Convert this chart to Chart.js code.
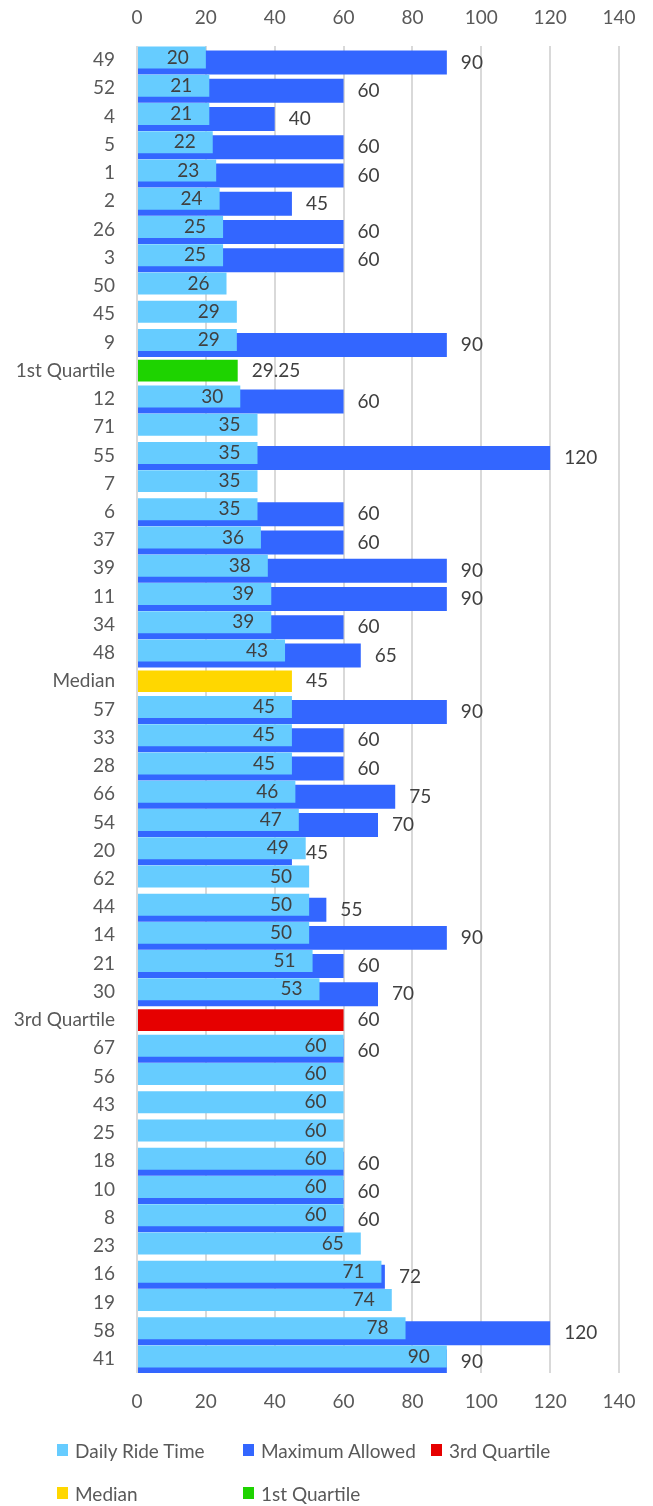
<!DOCTYPE html>
<html>
<head>
<meta charset="utf-8">
<script src="https://cdn.jsdelivr.net/npm/chart.js@4.4.1/dist/chart.umd.min.js"></script>
<style>
  html, body { margin: 0; padding: 0; background: #fff; }
  #wrap { position: relative; width: 653px; height: 1506px; }
  #legend {
    position: absolute; left: 57px; top: 1438px;
    display: grid; grid-template-columns: 186px 188px auto; row-gap: 19px;
    font: 19px Lato, sans-serif; color: #595959;
  }
  .item { display: flex; align-items: center; height: 24px; white-space: nowrap; }
  .box { width: 11px; height: 12px; margin-right: 7px; }
</style>
</head>
<body>
<div id="wrap">
  <canvas id="chart" width="653" height="1506"></canvas>
  <div id="legend"></div>
</div>
<script>
const categories = ['49', '52', '4', '5', '1', '2', '26', '3', '50', '45', '9', '1st Quartile',
  '12', '71', '55', '7', '6', '37', '39', '11', '34', '48', 'Median',
  '57', '33', '28', '66', '54', '20', '62', '44', '14', '21', '30', '3rd Quartile',
  '67', '56', '43', '25', '18', '10', '8', '23', '16', '19', '58', '41'];

const dailyRide = [20, 21, 21, 22, 23, 24, 25, 25, 26, 29, 29, null,
  30, 35, 35, 35, 35, 36, 38, 39, 39, 43, null,
  45, 45, 45, 46, 47, 49, 50, 50, 50, 51, 53, null,
  60, 60, 60, 60, 60, 60, 60, 65, 71, 74, 78, 90];

const maxAllowed = [90, 60, 40, 60, 60, 45, 60, 60, null, null, 90, null,
  60, null, 120, null, 60, 60, 90, 90, 60, 65, null,
  90, 60, 60, 75, 70, 45, null, 55, 90, 60, 70, null,
  60, null, null, null, 60, 60, 60, null, 72, null, 120, 90];

const firstQuartile = 29.25;
const median = 45;
const thirdQuartile = 60;

const xMin = 0, xMax = 140, xStep = 20;

// quartile rows only carry their own value
const onRow = (name, v) => categories.map(c => (c === name ? v : null));

const font = { family: 'Lato, sans-serif', size: 19 };
const tickColor = '#595959';

const valueLabels = {
  id: 'valueLabels',
  afterDatasetsDraw(chart) {
    const ctx = chart.ctx;
    ctx.save();
    ctx.font = '19px Lato, sans-serif';
    ctx.fillStyle = '#404040';
    ctx.textBaseline = 'middle';
    chart.data.datasets.forEach((ds, i) => {
      const meta = chart.getDatasetMeta(i);
      meta.data.forEach((bar, j) => {
        const v = ds.data[j];
        if (v == null) return;
        if (i === 0) {
          // inside end
          ctx.textAlign = 'right';
          ctx.fillText(v, bar.x - 17, bar.y);
        } else {
          // outside end
          ctx.textAlign = 'left';
          ctx.fillText(v, bar.x + 14, bar.y);
        }
      });
    });
    ctx.restore();
  }
};

const chart = new Chart(document.getElementById('chart'), {
  type: 'bar',
  data: {
    labels: categories,
    datasets: [
      { label: 'Daily Ride Time', data: dailyRide, backgroundColor: '#66CCFF',
        stack: 'ride', categoryPercentage: 0.354, barPercentage: 4.4 },
      { label: 'Maximum Allowed', data: maxAllowed, backgroundColor: '#3366FF',
        stack: 'max', categoryPercentage: 0.354, barPercentage: 4.8 },
      { label: '3rd Quartile', data: onRow('3rd Quartile', thirdQuartile), backgroundColor: '#E60000',
        grouped: false, barPercentage: 0.96 },
      { label: 'Median', data: onRow('Median', median), backgroundColor: '#FFD700',
        grouped: false, barPercentage: 0.96 },
      { label: '1st Quartile', data: onRow('1st Quartile', firstQuartile), backgroundColor: '#1ED300',
        grouped: false, barPercentage: 0.96 }
    ]
  },
  options: {
    indexAxis: 'y',
    responsive: false,
    animation: false,
    layout: { padding: { left: 0, right: 34, top: 0, bottom: 93 } },
    plugins: { legend: { display: false }, tooltip: { enabled: false } },
    scales: {
      x: {
        position: 'top', min: xMin, max: xMax,
        ticks: { stepSize: xStep, padding: 17, color: tickColor, font },
        grid: { color: '#d9d9d9', lineWidth: 2, drawTicks: false },
        border: { display: false },
        afterFit: s => { s.height = 46; }
      },
      x2: {
        type: 'linear', position: 'bottom', min: xMin, max: xMax,
        ticks: { stepSize: xStep, padding: 17, color: tickColor, font },
        grid: { display: false, drawTicks: false },
        border: { display: false },
        afterFit: s => { s.height = 40; }
      },
      y: {
        ticks: { padding: 22, color: tickColor, font, autoSkip: false },
        grid: { display: false, drawTicks: false },
        border: { display: false },
        afterFit: s => { s.width = 137; }
      }
    }
  },
  plugins: [valueLabels]
});

// html legend in a grid, built from the datasets
const legend = document.getElementById('legend');
chart.data.datasets.forEach(ds => {
  const item = document.createElement('div');
  item.className = 'item';
  const box = document.createElement('span');
  box.className = 'box';
  box.style.background = ds.backgroundColor;
  const txt = document.createElement('span');
  txt.textContent = ds.label;
  item.appendChild(box);
  item.appendChild(txt);
  legend.appendChild(item);
});
</script>
</body>
</html>
